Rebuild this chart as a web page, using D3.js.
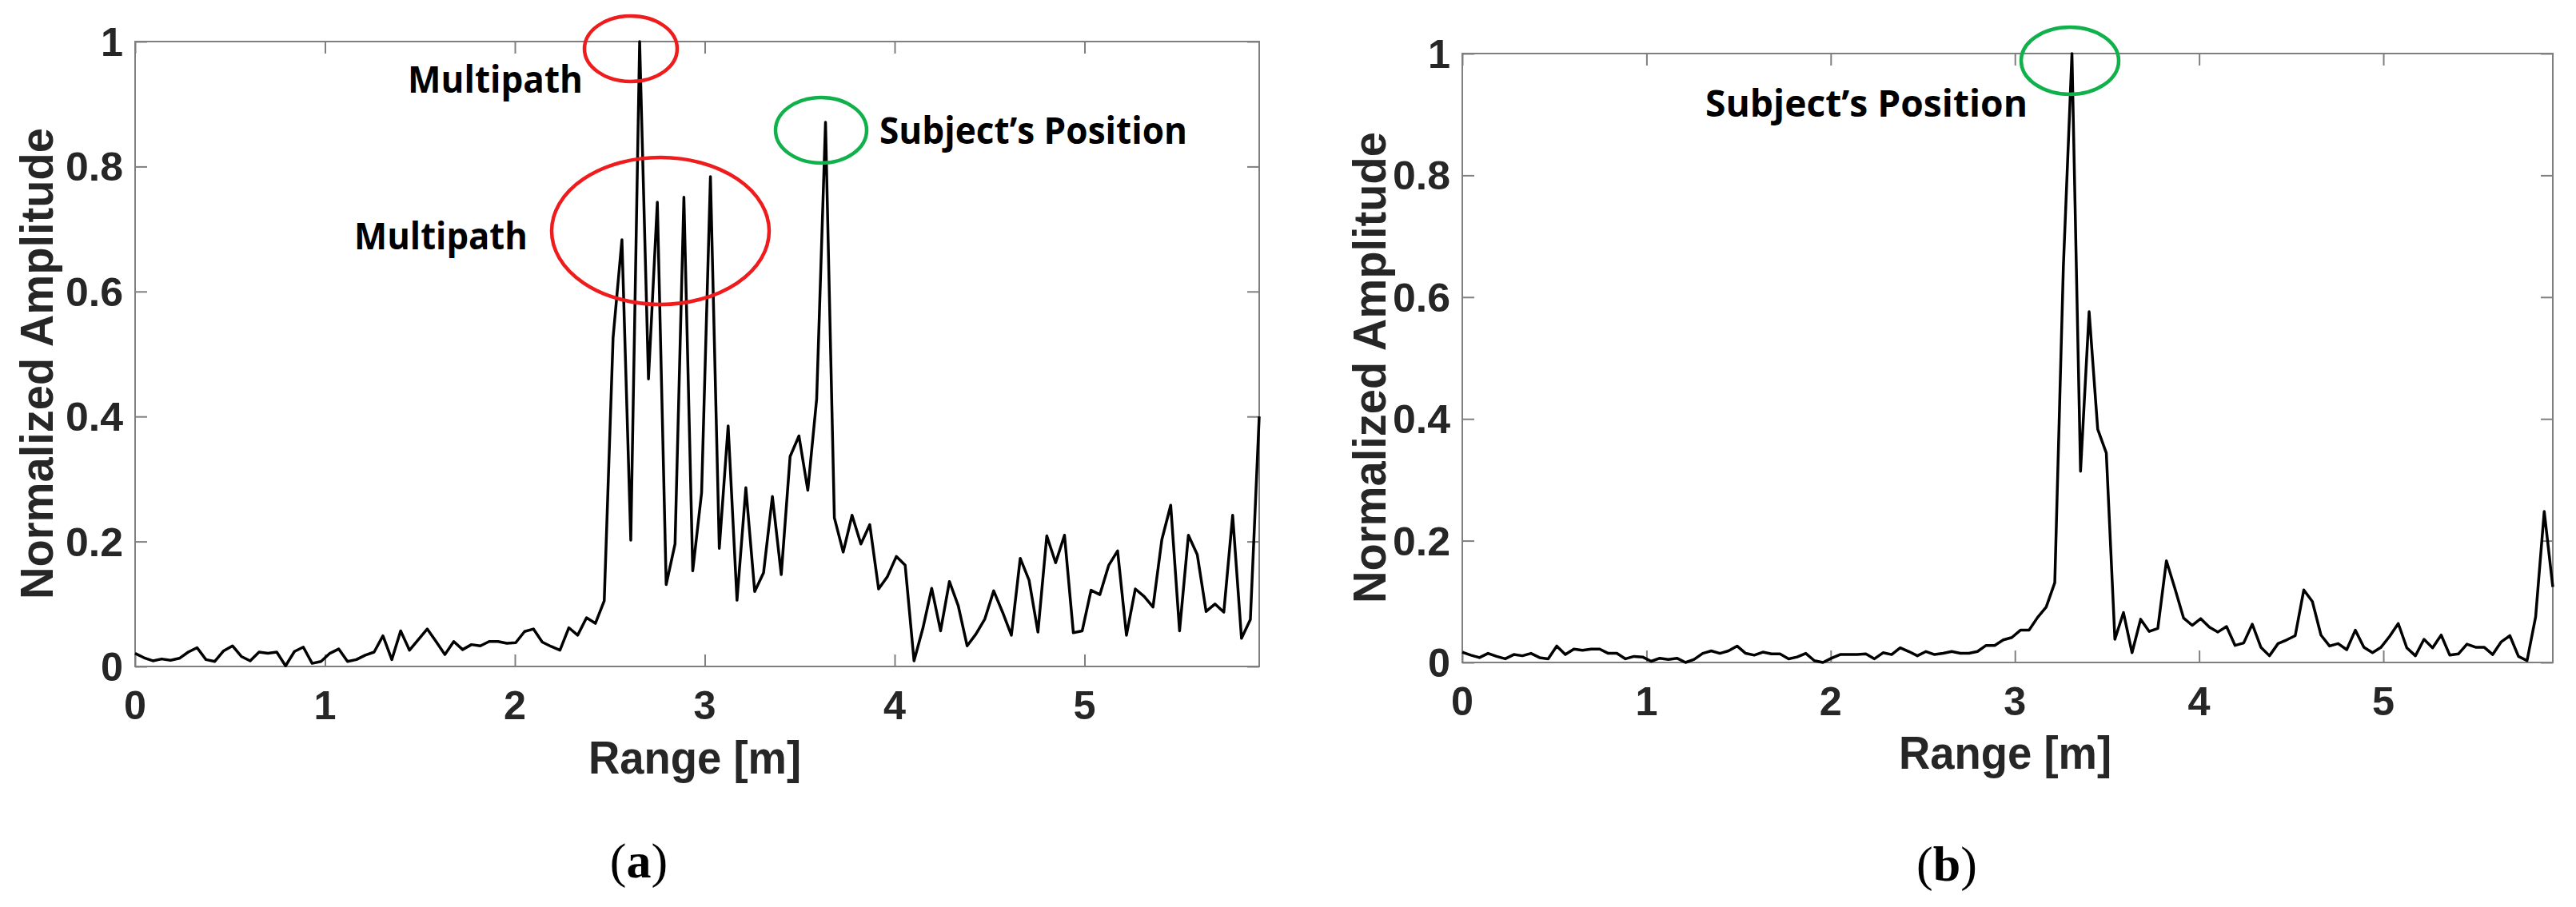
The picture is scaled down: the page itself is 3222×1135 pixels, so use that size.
<!DOCTYPE html>
<html><head><meta charset="utf-8">
<script src="https://cdn.jsdelivr.net/npm/d3@7"></script>
<style>body{margin:0;background:#fff}</style></head>
<body><svg id="c" width="3222" height="1135"></svg>
<script>
const xTicks=[0,1,2,3,4,5];
const yTicks=[0,0.2,0.4,0.6,0.8,1];
const yTickLabels=["0","0.2","0.4","0.6","0.8","1"];
const xMax=5.92;
const seriesA=[0.021,0.014,0.009,0.012,0.010,0.013,0.023,0.030,0.011,0.008,0.025,0.033,0.016,0.009,0.023,0.021,0.023,0.001,0.024,0.031,0.005,0.008,0.021,0.028,0.008,0.011,0.018,0.023,0.049,0.011,0.057,0.026,0.043,0.060,0.040,0.019,0.040,0.027,0.035,0.033,0.040,0.040,0.037,0.038,0.056,0.060,0.039,0.032,0.026,0.062,
0.050,0.078,0.069,0.105,0.526,0.683,0.202,1.0,0.46,0.743,0.131,0.196,0.751,0.153,0.278,0.784,0.189,0.385,0.106,0.286,0.12,0.150,0.272,0.147,0.336,0.369,0.282,0.428,0.871,0.238,0.183,0.242,0.196,0.227,0.124,0.144,0.176,0.162,
0.009,0.061,0.125,0.057,0.136,0.097,0.033,0.052,0.076,0.121,0.087,0.050,0.173,0.138,0.055,0.209,0.166,0.210,0.054,0.057,0.122,0.115,0.162,0.185,0.050,0.124,0.112,0.095,0.203,0.258,0.057,0.210,0.179,0.088,0.100,0.087,0.242,0.045,0.075,0.40];
const seriesB=[0.017,0.012,0.008,0.015,0.010,0.006,0.013,0.011,0.015,0.008,0.006,0.027,0.013,0.022,0.020,0.022,0.022,0.015,0.015,0.006,0.010,0.009,0.002,0.007,0.005,0.007,0.0,0.005,0.015,0.019,0.015,0.019,0.027,0.015,0.012,0.017,0.014,0.014,0.006,0.009,0.015,0.003,0.0,0.007,0.013,0.013,0.013,0.014,0.006,0.016,0.013,0.024,
0.018,0.011,0.018,0.013,0.015,0.018,0.015,0.015,0.018,0.028,0.028,0.037,0.041,0.053,0.053,0.074,0.091,0.131,
0.65,1.0,0.314,0.576,0.383,0.344,0.038,0.082,0.016,0.071,0.051,0.056,0.167,0.121,0.073,0.061,0.072,0.058,
0.050,0.059,0.028,0.032,0.063,0.025,0.011,0.031,0.037,0.044,0.119,0.100,0.045,0.027,0.031,0.021,0.053,0.025,0.016,0.025,0.043,0.064,0.024,0.011,0.038,0.024,0.045,0.012,0.014,0.030,0.025,0.025,0.013,0.034,0.044,0.010,0.003,0.075,0.248,0.124];

const svg=d3.select("#c");
const panels=[
 {data:seriesA,x0:169,x1:1575,y0:834,y1:52,ylab:46,xlabY:968,capX:799,capY:1098,cap:"a",
  notes:[{t:"Multipath",x:510,y:116,w:219},{t:"Multipath",x:443,y:312,w:217},{t:"Subject’s Position",x:1100,y:180,w:385}],
  ells:[{cx:789,cy:61,rx:58,ry:41,c:"#ee1c1c"},{cx:826,cy:289,rx:136,ry:92,c:"#ee1c1c"},{cx:1027,cy:163,rx:57,ry:41,c:"#10b04a"}]},
 {data:seriesB,x0:1829,x1:3193,y0:829,y1:67,ylab:1713,xlabY:962,capX:2435,capY:1102,cap:"b",
  notes:[{t:"Subject’s Position",x:2133,y:146,w:403}],
  ells:[{cx:2589,cy:76,rx:61,ry:42,c:"#10b04a"}]}
];
const axisCol="#7f7f7f", txtCol="#262626";
panels.forEach(p=>{
  const x=d3.scaleLinear().domain([0,xMax]).range([p.x0,p.x1]);
  const y=d3.scaleLinear().domain([0,1]).range([p.y0,p.y1]);
  const g=svg.append("g");
  // box
  g.append("rect").attr("x",p.x0).attr("y",p.y1).attr("width",p.x1-p.x0).attr("height",p.y0-p.y1)
   .attr("fill","none").attr("stroke",axisCol).attr("stroke-width",2);
  // inward ticks via d3 axes
  const ax=[
    [d3.axisBottom(x).tickValues(xTicks).tickSize(-15).tickFormat(""),`translate(0,${p.y0})`],
    [d3.axisTop(x).tickValues(xTicks).tickSize(-15).tickFormat(""),`translate(0,${p.y1})`],
    [d3.axisLeft(y).tickValues(yTicks).tickSize(-15).tickFormat(""),`translate(${p.x0},0)`],
    [d3.axisRight(y).tickValues(yTicks).tickSize(-15).tickFormat(""),`translate(${p.x1},0)`]];
  ax.forEach(([a,t])=>{const s=g.append("g").attr("transform",t).call(a);
    s.select(".domain").remove(); s.selectAll("line").attr("stroke",axisCol).attr("stroke-width",2);});
  // tick labels
  const lf="'Liberation Sans',Arial,sans-serif";
  g.selectAll(".xl").data(xTicks).join("text").attr("x",d=>x(d)).attr("y",p.y0+66)
   .attr("text-anchor","middle").attr("font-family",lf).attr("font-weight","bold").attr("font-size",50)
   .attr("fill",txtCol).attr("textLength",28).attr("lengthAdjust","spacingAndGlyphs").text(d=>d);
  g.selectAll(".yl").data(yTicks).join("text").attr("x",p.x0-15).attr("y",d=>y(d)+18)
   .attr("text-anchor","end").attr("font-family",lf).attr("font-weight","bold").attr("font-size",50)
   .attr("fill",txtCol).text((d,i)=>yTickLabels[i])
   .attr("textLength",(d,i)=>yTickLabels[i].length===1?28:72).attr("lengthAdjust","spacingAndGlyphs");
  // axis titles
  g.append("text").attr("transform",`translate(${p.ylab+20},${(p.y0+p.y1)/2+12}) rotate(-90)`)
   .attr("text-anchor","middle").attr("font-family",lf).attr("font-weight","bold").attr("font-size",58)
   .attr("fill",txtCol).attr("textLength",590).attr("lengthAdjust","spacingAndGlyphs").text("Normalized Amplitude");
  g.append("text").attr("x",(p.x0+p.x1)/2-3).attr("y",p.xlabY).attr("text-anchor","middle")
   .attr("font-family",lf).attr("font-weight","bold").attr("font-size",58).attr("fill",txtCol)
   .attr("textLength",266).attr("lengthAdjust","spacingAndGlyphs").text("Range [m]");
  // caption
  const cap=g.append("text").attr("x",p.capX).attr("y",p.capY).attr("text-anchor","middle")
   .attr("font-family","'Liberation Serif','Times New Roman',serif").attr("font-size",62).attr("fill","#000");
  cap.append("tspan").text("(");cap.append("tspan").attr("font-weight","bold").text(p.cap);cap.append("tspan").text(")");
  // line
  const n=p.data.length;
  const line=d3.line().x((d,i)=>x(i*xMax/(n-1))).y(d=>y(d));
  g.append("path").datum(p.data).attr("d",line).attr("fill","none").attr("stroke","#000")
   .attr("stroke-width",3.5).attr("stroke-linejoin","round");
  // annotations
  p.notes.forEach(t=>g.append("text").attr("x",t.x).attr("y",t.y).attr("font-family","'Open Sans','Noto Sans',sans-serif")
   .attr("font-weight","bold").attr("font-size",46).attr("fill","#000").attr("textLength",t.w)
   .attr("lengthAdjust","spacingAndGlyphs").text(t.t));
  p.ells.forEach(e=>g.append("ellipse").attr("cx",e.cx).attr("cy",e.cy).attr("rx",e.rx).attr("ry",e.ry)
   .attr("fill","none").attr("stroke",e.c).attr("stroke-width",4.5));
});
</script></body></html>
